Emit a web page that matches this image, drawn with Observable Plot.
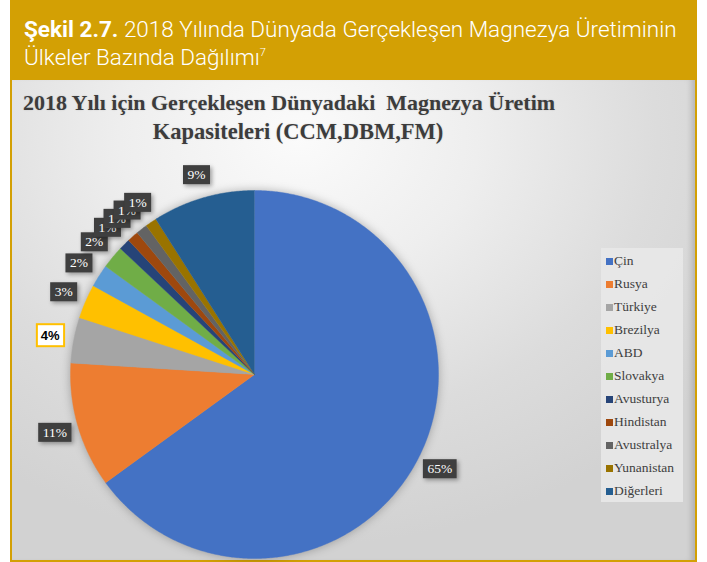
<!DOCTYPE html>
<html><head><meta charset="utf-8">
<script src="https://cdn.jsdelivr.net/npm/d3@7"></script>
<script src="https://cdn.jsdelivr.net/npm/@observablehq/plot@0.6"></script>
<style>
html,body{margin:0;padding:0;width:707px;height:562px;overflow:hidden;background:#fff;}
#page{position:relative;width:707px;height:562px;}
#head{position:absolute;left:10px;top:0;width:687px;height:80px;box-sizing:border-box;background:#D3A004;color:#fff;
  font-family:Roboto,sans-serif;font-size:22.5px;font-weight:300;line-height:28px;padding:15px 0 0 14px;white-space:nowrap;}
#head b{font-weight:700;}
#head sup{font-size:11px;vertical-align:9px;line-height:0;}
#chart{position:absolute;left:10px;top:80px;width:687px;height:482px;box-sizing:border-box;border:2px solid #D3A004;border-top:none;
  background:radial-gradient(ellipse 75% 85% at 42% 12%, #fbfbfb 0%, #eeeeee 35%, #dcdcdc 70%, #d2d2d2 100%);
  box-shadow: inset -7px 0 6px -4px rgba(0,0,0,0.18);}
#title{position:absolute;left:0;top:8px;width:554px;text-align:center;font-family:"Liberation Serif",serif;font-weight:700;
  font-size:22px;line-height:29px;color:#3c3c3c;white-space:nowrap;text-shadow:0 0 2px rgba(0,0,0,0.15);}
#title .l2{display:inline-block;margin-left:18px;font-size:22.5px;}
#plot{position:absolute;left:0;top:0;}
#legend{position:absolute;left:589px;top:168px;width:82px;height:254px;box-sizing:border-box;background:rgba(232,232,232,0.9);
  padding-top:1px;font-family:"Liberation Serif","Times New Roman",serif;font-size:13.5px;color:#404040;}
#legend .it{height:23px;line-height:23px;white-space:nowrap;padding-left:5px;}
#legend .sw{display:inline-block;width:7px;height:7px;margin-right:1px;vertical-align:0px;}
</style></head>
<body>
<div id="page">
  <div id="head"><b>Şekil 2.7.</b> 2018 Yılında Dünyada Gerçekleşen Magnezya Üretiminin<br>Ülkeler Bazında Dağılımı<sup>7</sup></div>
  <div id="chart">
    <div id="plot"></div>
    <div id="title">2018 Yılı için Gerçekleşen Dünyadaki&nbsp; Magnezya Üretim<br><span class="l2">Kapasiteleri (CCM,DBM,FM)</span></div>
    <div id="legend"></div>
  </div>
</div>
<script>
const countries = ["Çin","Rusya","Türkiye","Brezilya","ABD","Slovakya","Avusturya","Hindistan","Avustralya","Yunanistan","Diğerleri"];
const shares = [65,11,4,3,2,2,1,1,1,1,9];
const colors = ["#4472C4","#ED7D31","#A5A5A5","#FFC000","#5B9BD5","#70AD47","#264478","#9E480E","#636363","#997300","#255E91"];
const highlighted = "Türkiye";

const arcs = d3.pie().sort(null).value(d => d)(shares);
const slicePts = [];
arcs.forEach((a, i) => {
  slicePts.push({name: countries[i], x: 0, y: 0});
  const n = Math.max(2, Math.ceil((a.endAngle - a.startAngle) / (Math.PI / 360)));
  for (let j = 0; j <= n; j++) {
    const t = a.startAngle + (a.endAngle - a.startAngle) * j / n;
    slicePts.push({name: countries[i], x: Math.sin(t), y: Math.cos(t)});
  }
});
const labelR = 1.13;
const labels = arcs.map((a, i) => {
  const m = (a.startAngle + a.endAngle) / 2;
  return {name: countries[i], text: shares[i] + "%", x: labelR * Math.sin(m), y: labelR * Math.cos(m)};
});

const chart = Plot.plot({
  width: 683, height: 480, margin: 0,
  style: {background: "transparent", overflow: "visible"},
  x: {domain: [-1, 1], range: [58, 426], axis: null},
  y: {domain: [-1, 1], range: [478, 110], axis: null},
  color: {domain: countries, range: colors},
  marks: [
    Plot.line(slicePts, {x: "x", y: "y", z: "name", fill: "name", stroke: "name", strokeWidth: 0.4, curve: "linear"}),
    Plot.text(labels.filter(d => d.name !== highlighted), {x: "x", y: "y", text: "text", fill: "white",
      fontFamily: "Liberation Serif", fontSize: 13.5}),
    Plot.text(labels.filter(d => d.name === highlighted), {x: "x", y: "y", text: "text", fill: "black",
      fontFamily: "Liberation Sans", fontWeight: "bold", fontSize: 13})
  ]
});
document.getElementById("plot").appendChild(chart);

const pieG = chart.querySelector('g[aria-label="line"]');
if (pieG) pieG.style.filter = "drop-shadow(0px 0px 5px rgba(0,0,0,0.28))";

chart.querySelectorAll('g[aria-label="text"]').forEach(g => {
  const bold = g.getAttribute("font-weight") === "bold";
  g.querySelectorAll("text").forEach(t => {
    const b = t.getBBox();
    const r = document.createElementNS("http://www.w3.org/2000/svg", "rect");
    const px = bold ? 4 : 4.5, py = bold ? 3.5 : 2;
    r.setAttribute("x", b.x - px); r.setAttribute("y", b.y - py);
    r.setAttribute("width", b.width + 2 * px); r.setAttribute("height", b.height + 2 * py);
    const tr = t.getAttribute("transform");
    if (tr) r.setAttribute("transform", tr);
    if (bold) {
      r.setAttribute("fill", "#ffffff"); r.setAttribute("stroke", "#FFC000"); r.setAttribute("stroke-width", "2");
    } else {
      r.setAttribute("fill", "#3f3f3f");
      r.style.filter = "drop-shadow(2px 2px 2px rgba(0,0,0,0.35))";
    }
    t.parentNode.insertBefore(r, t);
  });
});

const legend = document.getElementById("legend");
countries.forEach((c, i) => {
  const it = document.createElement("div");
  it.className = "it";
  const sw = document.createElement("span");
  sw.className = "sw"; sw.style.background = colors[i];
  it.appendChild(sw);
  it.appendChild(document.createTextNode(c));
  legend.appendChild(it);
});
</script>
</body></html>
